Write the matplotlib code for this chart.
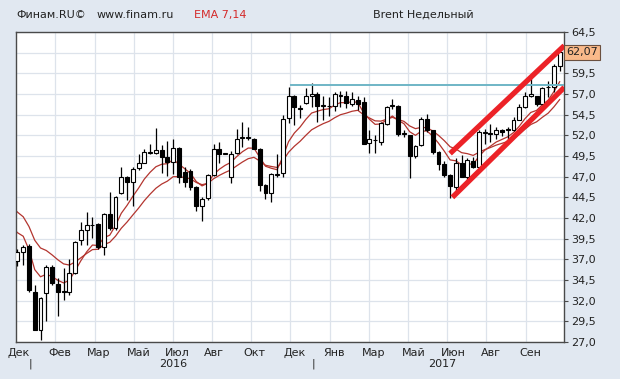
import numpy as np
import matplotlib
matplotlib.use("Agg")
import matplotlib.pyplot as plt

# Brent, weekly candles
opens = [36.8, 37.9, 38.6, 33.1, 28.5, 32.9, 36.1, 34.0, 33.0, 33.1,
         35.3, 39.3, 40.6, 41.1, 41.3, 38.5, 42.5, 40.8, 45.0, 47.0,
         46.3, 48.0, 48.7, 49.9, 49.9, 50.2, 49.4, 48.8, 50.5, 47.6,
         47.7, 45.8, 43.45, 44.4, 47.2, 50.3, 49.8, 47.0, 49.9, 51.7,
         51.7, 51.6, 50.4, 46.05, 45.0, 47.2, 47.5, 54.1, 56.7, 55.3,
         55.9, 56.8, 57.0, 55.6, 55.6, 55.6, 56.8, 56.7, 55.8, 56.3,
         56.0, 51.1, 51.4, 51.2, 53.4, 55.6, 55.6, 52.2, 52.0, 49.5,
         50.8, 54.0, 52.6, 50.0, 48.5, 47.2, 45.8, 48.6, 47.0, 48.9,
         48.2, 52.3, 52.25, 52.2, 52.7, 52.7, 52.7, 53.9, 55.4, 56.8,
         56.7, 55.75, 57.8, 57.9, 60.4]
highs = [38.3, 38.7, 38.9, 33.9, 32.5, 36.3, 36.3, 34.8, 35.9, 37.1,
         39.2, 41.5, 42.7, 42.1, 41.4, 42.6, 45.1, 44.7, 48.2, 47.1,
         48.2, 49.8, 50.4, 51.0, 52.9, 50.8, 51.3, 51.6, 50.6, 48.2,
         47.9, 45.9, 44.5, 47.3, 50.9, 51.2, 49.9, 50.1, 52.8, 53.6,
         53.0, 51.7, 50.5, 46.1, 47.5, 49.8, 54.4, 57.8, 56.9, 55.7,
         57.7, 58.3, 57.2, 56.8, 56.6, 57.3, 57.4, 57.4, 57.3, 56.8,
         56.6, 52.6, 52.0, 53.6, 55.6, 56.4, 55.7, 52.6, 52.1, 50.8,
         54.2, 54.6, 52.7, 50.1, 48.9, 47.3, 49.2, 49.6, 49.2, 49.4,
         52.6, 52.8, 53.4, 53.0, 52.8, 53.0, 54.2, 55.8, 57.2, 58.9,
         56.8, 57.8, 58.6, 60.6, 62.2]
lows = [36.2, 36.3, 33.1, 28.4, 27.3, 29.6, 33.9, 30.2, 32.1, 32.7,
        35.2, 38.7, 38.7, 39.6, 38.3, 37.5, 40.6, 40.5, 44.9, 44.2,
        43.5, 47.8, 48.6, 49.8, 49.8, 47.5, 47.1, 47.3, 46.2, 45.8,
        45.4, 42.8, 41.65, 44.2, 47.1, 48.6, 49.7, 46.2, 49.7, 50.6,
        51.4, 50.3, 45.25, 44.25, 43.9, 47.0, 47.0, 53.5, 53.3, 54.1,
        55.8, 55.4, 53.6, 53.9, 54.3, 54.9, 55.4, 55.3, 55.6, 55.1,
        50.9, 49.85, 49.9, 50.8, 53.2, 55.2, 51.9, 51.8, 46.8, 49.2,
        50.7, 52.4, 49.8, 47.8, 47.0, 44.45, 45.2, 46.9, 46.4, 48.0,
        48.0, 51.0, 51.2, 51.6, 51.9, 51.6, 52.5, 53.8, 55.3, 56.6,
        55.6, 55.7, 56.6, 57.2, 59.8]
closes = [37.9, 38.5, 33.3, 28.5, 32.3, 36.1, 34.1, 33.1, 33.2, 35.4,
          39.1, 40.5, 41.1, 41.2, 38.5, 42.5, 40.8, 44.6, 47.0, 46.4,
          47.9, 48.6, 50.0, 50.0, 50.2, 49.4, 48.8, 50.5, 46.9, 46.3,
          45.7, 43.45, 44.3, 47.2, 50.4, 49.8, 49.8, 49.8, 51.5, 51.8,
          51.8, 50.4, 46.05, 45.0, 47.3, 47.3, 54.0, 56.8, 55.4, 55.2,
          56.7, 57.0, 55.6, 55.7, 55.5, 57.0, 56.85, 55.9, 56.4, 55.8,
          51.0, 51.6, 51.45, 53.5, 55.4, 55.7, 52.2, 52.25, 49.5, 50.7,
          54.0, 52.6, 50.0, 48.5, 47.2, 45.85, 48.6, 47.0, 49.0, 48.2,
          52.4, 52.35, 52.2, 52.7, 52.45, 52.75, 53.9, 55.4, 56.8, 57.0,
          55.75, 57.75, 57.9, 60.4, 62.07]

# EMA values just before the first visible candle (read from the left edge)
ema_seed = {7: 41.0, 14: 43.45}

y_ticks = [27.0 + 2.5 * i for i in range(16)]
month_labels = ["Дек", "Фев", "Мар", "Май", "Июл", "Авг", "Окт",
                "Дек", "Янв", "Мар", "Май", "Июн", "Авг", "Сен"]
month_pos = [0.2, 7.3, 14.1, 21.0, 27.7, 34.1, 41.0,
             48.0, 54.9, 61.8, 68.7, 75.5, 82.1, 88.9]
year_labels = ["2016", "2017"]
year_pos = [27.0, 73.6]
year_ticks = [2.2, 51.3]
v_grid = [6.57 + 6.794 * i for i in range(13)]

# channel lines and resistance level
channel_upper = ([75.0, 94.8], [49.8, 62.85])
channel_lower = ([75.4, 94.8], [44.5, 57.8])
resistance = 58.1
resistance_start = 47.5
last_price = 62.07


def ema(values, n, seed):
    a = 2.0 / (n + 1)
    out = [seed]
    for v in values:
        out.append(out[-1] + a * (v - out[-1]))
    return out


bg = "#e1e8f1"
fig = plt.figure(figsize=(6.2, 3.79), dpi=100, facecolor=bg)
ax = fig.add_axes([16 / 620, 1 - 342 / 379, 548 / 620, 310 / 379])
ax.set_facecolor("white")

n = len(closes)
x = np.arange(n)
ax.set_xlim(-0.25, 94.75)
ax.set_ylim(27.0, 64.5)

for g in y_ticks:
    ax.axhline(g, color="#dde3eb", lw=0.9, zorder=0)
for g in v_grid:
    ax.axvline(g, color="#dde3eb", lw=0.9, zorder=0)

# EMA lines
for period in (7, 14):
    e = ema(closes, period, ema_seed[period])
    ax.plot(np.arange(-1, n), e, color="#b3352f", lw=0.9, zorder=2)

# candles
o = np.array(opens)
c = np.array(closes)
ax.vlines(x, lows, highs, color="black", lw=0.9, zorder=3)
bottom = np.minimum(o, c)
height = np.maximum(np.abs(c - o), 0.06)
colors = ["black" if cc < oo else "white" for oo, cc in zip(o, c)]
ax.bar(x, height, bottom=bottom, width=0.68, color=colors,
       edgecolor="black", linewidth=0.8, zorder=4)

# horizontal level and channel
ax.plot([resistance_start, 94.75], [resistance, resistance],
        color="#6fb6c6", lw=1.4, zorder=5)
ax.plot(*channel_upper, color="#ec2227", lw=3.8, solid_capstyle="butt", zorder=6)
ax.plot(*channel_lower, color="#ec2227", lw=3.8, solid_capstyle="butt", zorder=6)

for s in ax.spines.values():
    s.set_color("#4a4a4a")
    s.set_linewidth(1.0)
ax.set_xticks([])
ax.yaxis.tick_right()
ax.set_yticks(y_ticks)
ax.set_yticklabels([f"{v:.1f}".replace(".", ",") for v in y_ticks])
ax.tick_params(axis="y", length=3, width=0.8, color="#4a4a4a", pad=2,
               labelsize=8, labelcolor="#222222")

# last price marker
ax.text(1.004, (last_price - 27.0) / 37.5, f"{last_price:.2f}".replace(".", ","),
        transform=ax.transAxes, va="center", ha="left", fontsize=8,
        color="#222222", zorder=10,
        bbox=dict(boxstyle="square,pad=0.22", fc="#f9b98a", ec="#6a5040", lw=0.8))

# month and year labels under the plot
tr = ax.get_xaxis_transform()
for lab, pos in zip(month_labels, month_pos):
    ax.text(pos, -0.034, lab, transform=tr, ha="center", va="center",
            fontsize=8, color="#222222")
for lab, pos in zip(year_labels, year_pos):
    ax.text(pos, -0.071, lab, transform=tr, ha="center", va="center",
            fontsize=8, color="#222222")
for pos in year_ticks:
    ax.text(pos, -0.071, "|", transform=tr, ha="center", va="center",
            fontsize=8, color="#222222")

# header
fig.text(16 / 620, 1 - 15 / 379, "Финам.RU©", fontsize=8, va="center", color="#222222")
fig.text(97 / 620, 1 - 15 / 379, "www.finam.ru", fontsize=8, va="center", color="#222222")
fig.text(194 / 620, 1 - 15 / 379, "EMA 7,14", fontsize=8, va="center", color="#d42a2a")
fig.text(373 / 620, 1 - 15 / 379, "Brent Недельный", fontsize=8, va="center", color="#222222")

fig.savefig("out.png", dpi=100, facecolor=bg)
